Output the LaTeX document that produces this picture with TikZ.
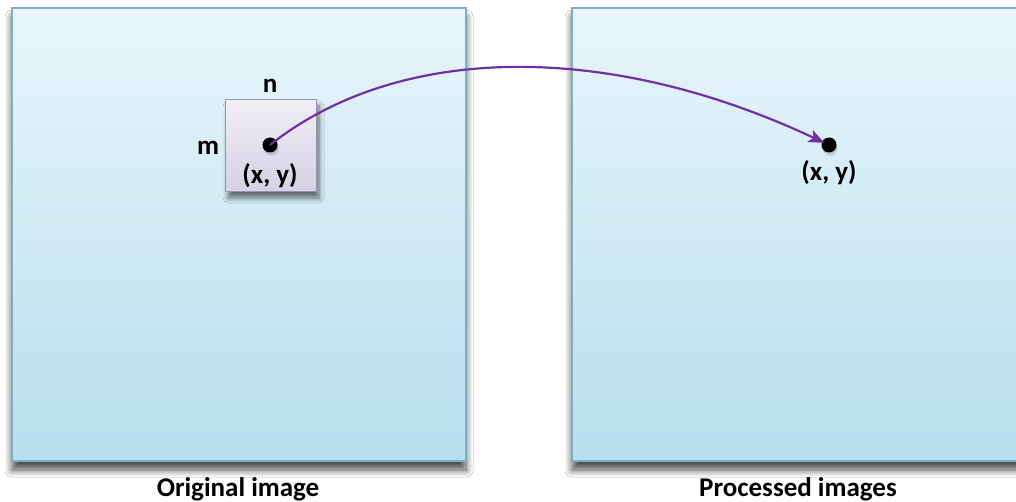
\documentclass[tikz,border=0pt]{standalone}
\usepackage{fontspec}
\setmainfont{Carlito}
\usetikzlibrary{shadows.blur,arrows.meta}
\definecolor{paneltop}{HTML}{E9F5FB}
\definecolor{panelbot}{HTML}{B6DFEF}
\definecolor{panelline}{HTML}{7DAFC2}
\definecolor{wintop}{HTML}{F1EEF6}
\definecolor{winbot}{HTML}{D6D0E4}
\definecolor{winline}{HTML}{9893AE}
\definecolor{mapcol}{HTML}{7030A0}
\tikzset{
  panel/.style={draw=panelline, line width=1.2pt, top color=paneltop, bottom color=panelbot,
    blur shadow={shadow xshift=0pt, shadow yshift=-9pt, shadow blur radius=7pt, shadow blur steps=12, shadow opacity=70}},
  window/.style={draw=winline, line width=1pt, top color=wintop, bottom color=winbot,
    blur shadow={shadow xshift=3pt, shadow yshift=-6pt, shadow blur radius=5pt, shadow blur steps=8, shadow opacity=55}},
  pixel/.style={circle, fill=black, inner sep=0pt, minimum size=15pt},
  pixelshade/.style={circle, fill=black, fill opacity=0.15, inner sep=0pt, minimum size=15pt},
  lbl/.style={font=\bfseries\fontsize{27}{32}\selectfont, text=black, inner sep=0pt},
  mapping/.style={draw=mapcol, line width=2.2pt, -{Stealth[length=16pt,width=13pt,inset=4pt]}, shorten >=5pt}
}
\begin{document}
\begin{tikzpicture}[x=1pt,y=-1pt]
  \useasboundingbox[fill=white] (0,0) rectangle (1016,502);
  \clip (0,0) rectangle (1016,502);
  % source and result images
  \path[panel] (12,8) rectangle (466,461);
  \path[panel] (572,8) rectangle (1040,461);
  % neighbourhood window around the source pixel
  \path[window] (225,100) rectangle (316,192);
  % soft drop under each pixel marker
  \node[pixelshade] (srcsh) at (271,148) {};
  \node[pixelshade] (dstsh) at (830,148) {};
  \node[pixel] (src) at (270,145) {};
  \node[pixel] (dst) at (829,145) {};
  \node[lbl] (n) at (270,86) {n};
  \node[lbl] (m) at (208,148) {m};
  \node[lbl] (srcxy) at (270,176) {(x, y)};
  \node[lbl] (dstxy) at (829,173) {(x, y)};
  \node[lbl] (orig) at (238,489) {Original image};
  \node[lbl] (proc) at (798,489) {Processed images};
  % pixel mapping
  \draw[mapping] (src.center) .. controls (400,42) and (610,42) .. (dst.center);
\end{tikzpicture}
\end{document}
